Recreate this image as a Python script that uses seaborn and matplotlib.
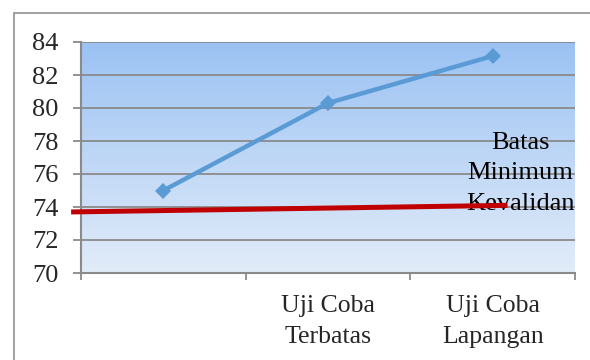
import numpy as np
import pandas as pd
import seaborn as sns
import matplotlib.pyplot as plt
from matplotlib.colors import LinearSegmentedColormap
from matplotlib.lines import Line2D

# Data
tahap = ["", "Uji Coba\nTerbatas", "Uji Coba\nLapangan"]
nilai = [75.0, 80.3, 83.15]
batas_awal_akhir = [73.7, 74.1]
batas_label = "Batas\nMinimum\nKevalidan"
y_ticks = [70, 72, 74, 76, 78, 80, 82, 84]

sns.set_theme(style="white")
plt.rcParams['font.family'] = ['Liberation Serif', 'DejaVu Serif']

fig = plt.figure(figsize=(5.9, 3.6), dpi=100)
ax = fig.add_axes([81 / 590, 1 - 273 / 360, (575 - 81) / 590, (273 - 42) / 360])

# vertical gradient background of the plot area
cmap = LinearSegmentedColormap.from_list("bg", ["#E2ECF9", "#9BC2F3"])
grad = np.linspace(0, 1, 256).reshape(-1, 1)
ax.imshow(grad, aspect="auto", cmap=cmap, origin="lower",
          extent=[-0.5, 2.5, 70, 84], zorder=0)

ax.set_xlim(-0.5, 2.5)
ax.set_ylim(70, 84)

for v in y_ticks[1:]:
    ax.axhline(v, color="#8A8A8A", lw=1.3, zorder=1)

df = pd.DataFrame({"x": range(len(tahap)), "nilai": nilai})
sns.lineplot(data=df, x="x", y="nilai", ax=ax, color="#5B9BD5", lw=3.2,
             marker="D", markersize=8, markeredgewidth=0, zorder=4)

# threshold line
garis = Line2D([-0.56, 2.09], batas_awal_akhir, color="#C00000", lw=3.6,
               solid_capstyle="butt", zorder=5, clip_on=False)
ax.add_line(garis)
ax.text(2.168, 76.05, batas_label, ha="center", va="center", fontsize=19,
        linespacing=1.5, color="black", zorder=3)

ax.set_yticks(y_ticks)
ax.set_yticklabels([str(v) for v in y_ticks])
ax.set_xticks([-0.5, 0.5, 1.5, 2.5])
ax.set_xticklabels([])
ax.set_xticks([0, 1, 2], minor=True)
ax.set_xticklabels(tahap, minor=True, linespacing=1.5)
ax.tick_params(axis="x", which="minor", length=0, pad=16, labelsize=18.5)
ax.tick_params(axis="x", which="major", length=5, width=1.3, color="#8A8A8A",
               direction="out", bottom=True)
ax.tick_params(axis="y", length=5.8, width=1.3, color="#8A8A8A",
               direction="out", left=True, pad=10.5, labelsize=19)
ax.set_xlabel("")
ax.set_ylabel("")

for s in ["top", "right"]:
    ax.spines[s].set_visible(False)
for s in ["left", "bottom"]:
    ax.spines[s].set_color("#8A8A8A")
    ax.spines[s].set_linewidth(1.5)

# outer chart border
fig.add_artist(Line2D([14 / 590, 14 / 590], [0, 1 - 13 / 360], color="#9A9A9A", lw=1.3))
fig.add_artist(Line2D([14 / 590, 1], [1 - 13 / 360, 1 - 13 / 360], color="#9A9A9A", lw=1.3))

fig.savefig("out.png", dpi=100)
